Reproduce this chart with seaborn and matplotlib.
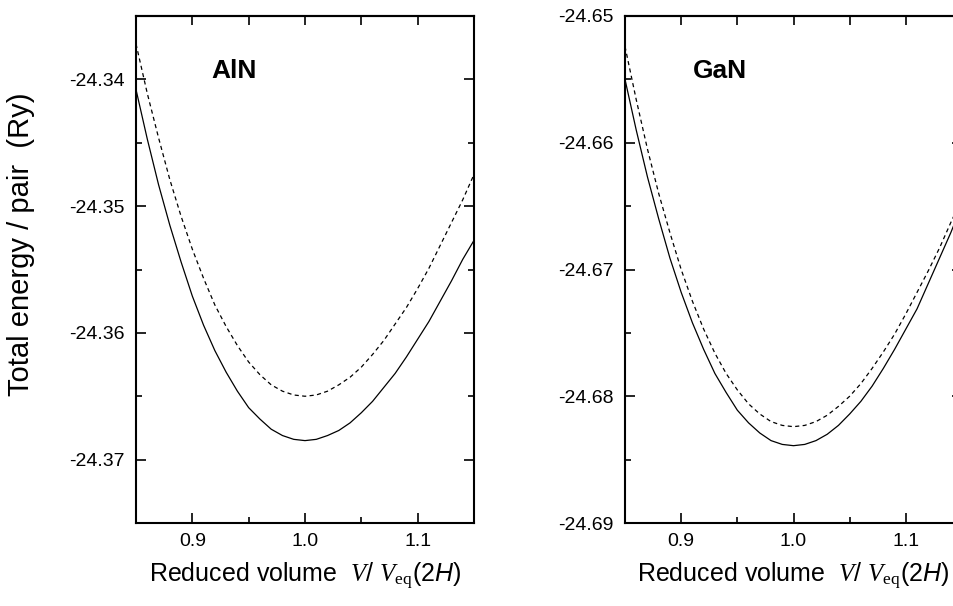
import numpy as np
import pandas as pd
import matplotlib
matplotlib.use("Agg")
import matplotlib.pyplot as plt
import seaborn as sns
from matplotlib.ticker import MultipleLocator, FormatStrFormatter

# ---- data ----
volume = [0.85, 0.86, 0.87, 0.88, 0.89, 0.90, 0.91, 0.92, 0.93, 0.94, 0.95,
          0.96, 0.97, 0.98, 0.99, 1.00, 1.01, 1.02, 1.03, 1.04, 1.05, 1.06,
          1.07, 1.08, 1.09, 1.10, 1.11, 1.12, 1.13, 1.14, 1.15]

aln_solid = [-24.3408, -24.3447, -24.3483, -24.3515, -24.3544, -24.3571, -24.3594,
             -24.3614, -24.3631, -24.3646, -24.3659, -24.3668, -24.3676, -24.3681,
             -24.3684, -24.3685, -24.3684, -24.3681, -24.3677, -24.3671, -24.3663,
             -24.3654, -24.3643, -24.3632, -24.3619, -24.3605, -24.3591, -24.3575,
             -24.3559, -24.3542, -24.3527]
aln_dashed = [-24.3372, -24.3411, -24.3446, -24.3479, -24.3508, -24.3534, -24.3557,
              -24.3578, -24.3595, -24.3610, -24.3623, -24.3633, -24.3641, -24.3646,
              -24.3649, -24.3650, -24.3649, -24.3646, -24.3641, -24.3635, -24.3627,
              -24.3617, -24.3606, -24.3593, -24.3580, -24.3565, -24.3549, -24.3531,
              -24.3513, -24.3495, -24.3475]
gan_solid = [-24.6550, -24.6590, -24.6627, -24.6660, -24.6691, -24.6718, -24.6742,
             -24.6763, -24.6782, -24.6797, -24.6811, -24.6821, -24.6829, -24.6835,
             -24.6838, -24.6839, -24.6838, -24.6835, -24.6830, -24.6823, -24.6814,
             -24.6804, -24.6792, -24.6778, -24.6763, -24.6747, -24.6731, -24.6711,
             -24.6691, -24.6671, -24.6649]
gan_dashed = [-24.6524, -24.6566, -24.6605, -24.6640, -24.6671, -24.6700, -24.6725,
              -24.6747, -24.6766, -24.6782, -24.6795, -24.6806, -24.6814, -24.6820,
              -24.6823, -24.6824, -24.6823, -24.6820, -24.6815, -24.6808, -24.6800,
              -24.6790, -24.6778, -24.6765, -24.6751, -24.6735, -24.6718, -24.6701,
              -24.6683, -24.6663, -24.6644]

panel_names = ["AlN", "GaN"]
aln_ylim = (-24.375, -24.335)
gan_ylim = (-24.69, -24.65)
top_ticks = [0.9, 0.95, 1.0, 1.05, 1.1]
x_label = r"Reduced volume  $V$/ $V_{\rm eq}$(2$\mathsf{H}$)"
y_label = "Total energy / pair  (Ry)"

# ---- style ----
sns.set_style("ticks")
plt.rcParams["font.family"] = ["Liberation Sans", "DejaVu Sans"]
plt.rcParams["mathtext.fontset"] = "custom"
plt.rcParams["mathtext.rm"] = "Liberation Serif"
plt.rcParams["mathtext.it"] = "Liberation Serif:italic"
plt.rcParams["mathtext.sf"] = "Liberation Sans:italic"
for k in ["text.color", "axes.labelcolor", "xtick.color", "ytick.color",
          "axes.edgecolor"]:
    plt.rcParams[k] = "black"

W, H = 954, 606
fig = plt.figure(figsize=(W / 100, H / 100), dpi=100)

def axes_rect(x0, x1, y0, y1):
    return [x0 / W, 1 - y1 / H, (x1 - x0) / W, (y1 - y0) / H]

ax_l = fig.add_axes(axes_rect(136, 474, 16, 523))
ax_r = fig.add_axes(axes_rect(625, 962, 16, 523))

def make_df(solid, dashed):
    return pd.DataFrame({
        "V": volume * 2,
        "E": list(solid) + list(dashed),
        "calc": ["solid"] * len(volume) + ["dashed"] * len(volume),
    })

for ax, solid, dashed, ylim, name, tx in [
    (ax_l, aln_solid, aln_dashed, aln_ylim, panel_names[0], 0.222),
    (ax_r, gan_solid, gan_dashed, gan_ylim, panel_names[1], 0.202),
]:
    df = make_df(solid, dashed)
    sns.lineplot(data=df, x="V", y="E", style="calc",
                 dashes={"solid": "", "dashed": (3.3, 2.7)},
                 color="black", linewidth=0.9, estimator=None,
                 legend=False, ax=ax)
    ax.set_xlim(0.85, 1.15)
    ax.set_ylim(*ylim)
    ax.xaxis.set_major_locator(MultipleLocator(0.1))
    ax.xaxis.set_minor_locator(MultipleLocator(0.05))
    ax.xaxis.set_major_formatter(FormatStrFormatter("%.1f"))
    ax.yaxis.set_major_locator(MultipleLocator(0.01))
    ax.yaxis.set_minor_locator(MultipleLocator(0.005))
    ax.yaxis.set_major_formatter(FormatStrFormatter("%.2f"))
    ax.tick_params(which="both", direction="in", top=False, right=True,
                   colors="black", width=1.2)
    ax.tick_params(which="major", length=7.5, labelsize=14, pad=7)
    ax.tick_params(which="minor", length=4)
    ax.tick_params(axis="y", which="major", pad=8)
    # top ticks: all of equal length
    sec = ax.secondary_xaxis("top")
    sec.set_xticks(top_ticks)
    sec.tick_params(direction="in", length=6.5, width=1.2, labeltop=False,
                    colors="black")
    sec.spines["top"].set_linewidth(1.5)
    for sp in ax.spines.values():
        sp.set_linewidth(1.5)
        sp.set_color("black")
    ax.set_xlabel(x_label, fontsize=18, va="baseline")
    ax.xaxis.set_label_coords(0.5, -0.118)
    ax.set_ylabel("")
    ax.text(tx, 0.878, name, transform=ax.transAxes, fontsize=19,
            fontweight="bold", ha="left", va="baseline", color="black")

ax_r.set_yticks(np.arange(-24.69, -24.6499, 0.01))

ax_l.set_ylabel(y_label, fontsize=21, va="bottom")
ax_l.yaxis.set_label_coords(-0.299, 0.55)

fig.savefig("out.png", dpi=100)
